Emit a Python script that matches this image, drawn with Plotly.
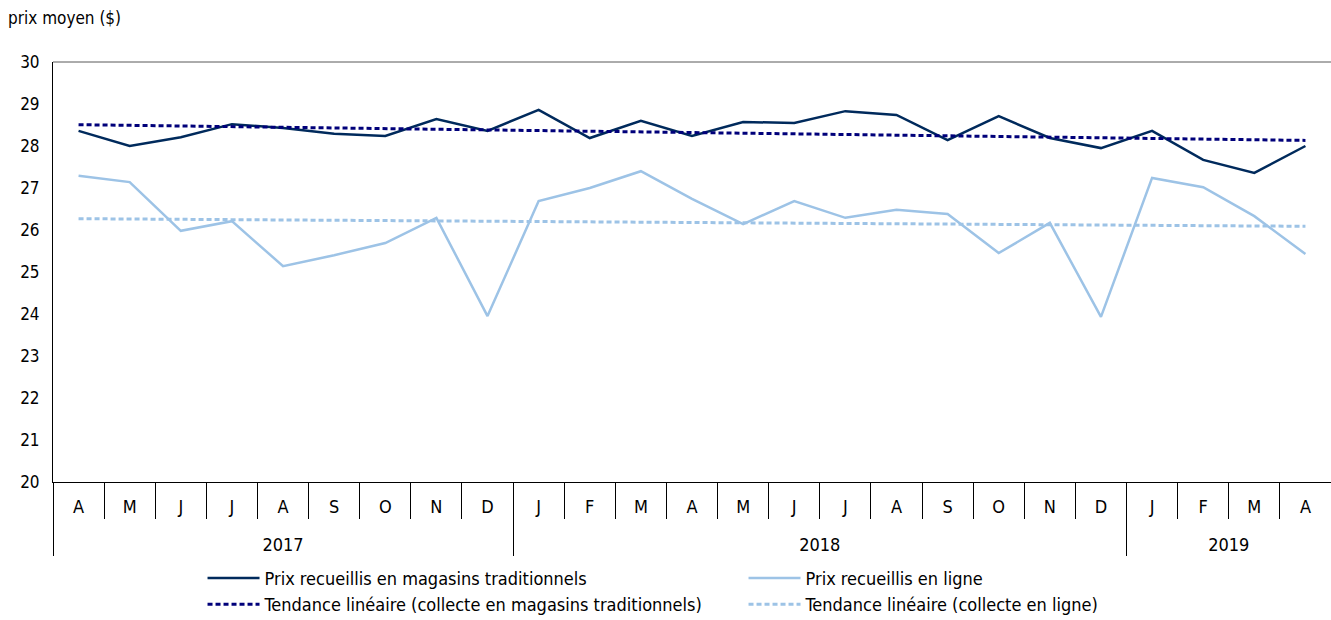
import numpy as np
import plotly.graph_objects as go

# ---------------- data ----------------
months = ["A", "M", "J", "J", "A", "S", "O", "N", "D",
          "J", "F", "M", "A", "M", "J", "J", "A", "S", "O", "N", "D",
          "J", "F", "M", "A"]
years = [2017] * 9 + [2018] * 12 + [2019] * 4

store_prices = [28.36, 28.00, 28.21, 28.52, 28.43, 28.29, 28.24, 28.64, 28.36,
                28.86, 28.19, 28.60, 28.24, 28.57, 28.55, 28.83, 28.74, 28.14,
                28.71, 28.19, 27.95, 28.36, 27.67, 27.36, 28.00]
online_prices = [27.29, 27.14, 25.98, 26.21, 25.14, 25.40, 25.69, 26.29, 23.95,
                 26.69, 27.00, 27.40, 26.74, 26.14, 26.69, 26.29, 26.48, 26.38,
                 25.45, 26.17, 23.93, 27.24, 27.02, 26.33, 25.43]

series_names = ["Prix recueillis en magasins traditionnels",
                "Prix recueillis en ligne",
                "Tendance linéaire (collecte en magasins traditionnels)",
                "Tendance linéaire (collecte en ligne)"]
y_title = "prix moyen ($)"

# ---------------- derived ----------------
n = len(months)
idx = np.arange(n)
store_trend = np.polyval(np.polyfit(idx, store_prices, 1), idx)
online_trend = np.polyval(np.polyfit(idx, online_prices, 1), idx)

month_bounds = list(idx[:-1] + 0.5)
uniq_years = sorted(set(years))
year_centers = [float(np.mean([i for i in idx if years[i] == y])) for y in uniq_years]
year_bounds = [-0.5] + [i - 0.5 for i in range(1, n) if years[i] != years[i - 1]]

DARK = "#002a5c"
DARK_TREND = "#00007a"
LIGHT = "#9dc3e6"
FONT = "Liberation Sans Narrow, DejaVu Sans Condensed, sans-serif"

fig = go.Figure()
fig.add_trace(go.Scatter(x=idx, y=store_prices, mode="lines", name=series_names[0],
                         line=dict(color=DARK, width=2.5)))
fig.add_trace(go.Scatter(x=idx, y=online_prices, mode="lines", name=series_names[1],
                         line=dict(color=LIGHT, width=2.5)))
fig.add_trace(go.Scatter(x=idx, y=store_trend, mode="lines", name=series_names[2],
                         xaxis="x2",
                         line=dict(color=DARK_TREND, width=3, dash="5px,3px")))
fig.add_trace(go.Scatter(x=idx, y=online_trend, mode="lines", name=series_names[3],
                         xaxis="x2",
                         line=dict(color=LIGHT, width=3, dash="5px,3px")))

fig.update_layout(
    width=1331, height=620,
    margin=dict(l=53, r=0, t=62, b=138, autoexpand=False),
    paper_bgcolor="white", plot_bgcolor="white",
    font=dict(family=FONT, size=17, color="black"),
    showlegend=True,
    legend=dict(orientation="h", x=0.117, xanchor="left", y=-0.185, yanchor="top",
                entrywidth=474, entrywidthmode="pixels", tracegroupgap=0,
                itemwidth=52,
                font=dict(size=18), bgcolor="rgba(0,0,0,0)"),
    title=dict(text=y_title, x=0.006, xanchor="left", y=0.971, yanchor="middle",
               font=dict(size=17)),
    xaxis=dict(range=[-0.5, n - 0.5], tickmode="array", tickvals=list(idx), ticktext=months,
               ticks="", showline=True, linecolor="black", linewidth=1,
               showgrid=False, zeroline=False, ticklabelstandoff=8,
               tickfont=dict(size=18),
               minor=dict(tickmode="array", tickvals=month_bounds, ticks="outside",
                          ticklen=36, tickcolor="black", tickwidth=1, showgrid=False)),
    xaxis2=dict(overlaying="x", matches="x", anchor="y", side="bottom",
                range=[-0.5, n - 0.5], tickmode="array", tickvals=year_centers,
                ticktext=[str(y) for y in uniq_years], ticks="", showline=False,
                showgrid=False, zeroline=False, ticklabelstandoff=50,
                tickfont=dict(size=18),
                minor=dict(tickmode="array", tickvals=year_bounds, ticks="outside",
                           ticklen=73, tickcolor="black", tickwidth=1, showgrid=False)),
    yaxis=dict(range=[20, 30], tickmode="linear", tick0=20, dtick=1, ticks="",
               showline=True, linecolor="black", linewidth=1, showgrid=False,
               zeroline=False, ticklabelstandoff=9, tickfont=dict(size=17)),
    shapes=[dict(type="line", xref="paper", yref="paper", x0=0, x1=1, y0=1, y1=1,
                 line=dict(color="#595959", width=1))],
)

fig.write_html("out.html", config={"displayModeBar": False},
               post_script="document.body.style.margin='0';document.body.style.overflow='hidden';")
